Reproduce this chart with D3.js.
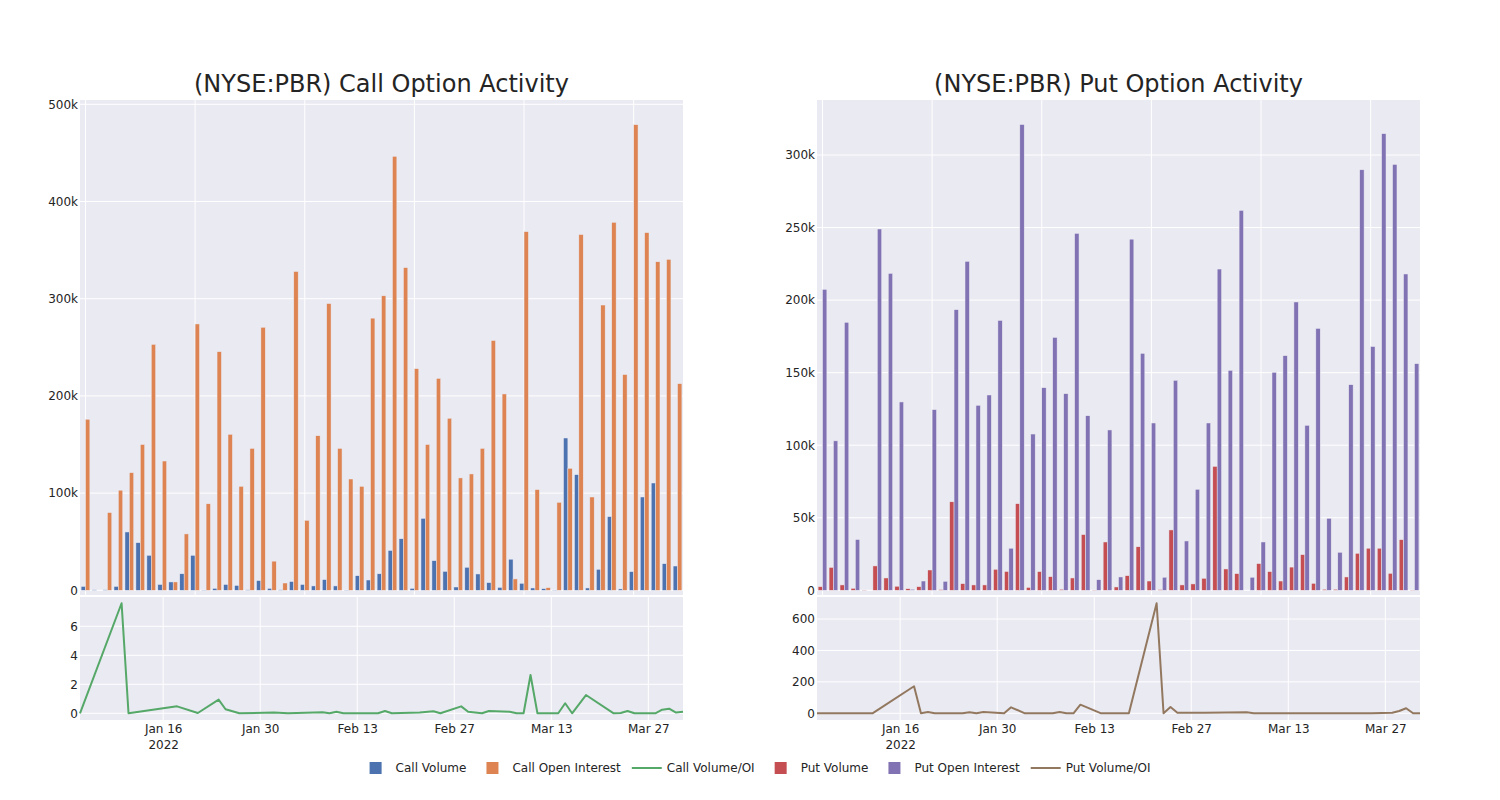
<!DOCTYPE html>
<html><head><meta charset="utf-8">
<script src="https://cdn.jsdelivr.net/npm/d3@7"></script>
<style>
body{margin:0;background:#fff;}
text{font-family:"DejaVu Sans",Verdana,sans-serif;fill:rgb(36,36,36);}
</style>
</head><body>
<svg id="c" width="1500" height="800"></svg>
<script>
// ---------- DATA ----------
const categories = [
 "2022-01-04","2022-01-10","2022-01-11","2022-01-12","2022-01-18","2022-01-19","2022-01-20","2022-01-21","2022-01-24","2022-01-25",
 "2022-01-26","2022-01-27","2022-01-28","2022-01-31","2022-02-01","2022-02-02","2022-02-03","2022-02-04","2022-02-07","2022-02-08",
 "2022-02-09","2022-02-10","2022-02-11","2022-02-14","2022-02-16","2022-02-17","2022-02-18","2022-02-22","2022-02-23","2022-02-24",
 "2022-02-25","2022-02-28","2022-03-01","2022-03-02","2022-03-03","2022-03-04","2022-03-07","2022-03-08","2022-03-09","2022-03-10",
 "2022-03-11","2022-03-14","2022-03-15","2022-03-16","2022-03-18","2022-03-21","2022-03-22","2022-03-23","2022-03-24","2022-03-25",
 "2022-03-28","2022-03-29","2022-03-30","2022-03-31","2022-04-01"];

// values in thousands of contracts
const callVolume = [4,0.5,0.5,4,60,49,36,6,8.6,17, 36,0.3,2,6,5,0.5,10,2,0.5,9, 6,4.5,11,4.5,0.3,15,10.6,17,41,53,
 2,74,30.5,19.5,3.4,23.7,16.8,7.9,3,32, 7.2,2.4,1.7,0.3,156.7,119,2.4,21.6,75.8,1.4, 19.2,96,110.4,27.4,25];
const callOpenInterest = [176,0,80,103,121,150,253,133,8.6,58, 274,89,245.5,160.5,107,146,270.6,30,7.5,328,
 72,159,295,146,114.5,107,280,303,446.5,332, 228,150,218,177,115.6,119.7,146,257,202,11.7,
 369,103.6,2.7,90.5,125.5,366,96,293.5,378.6,222, 479,368,338,340.5,212.6];
const putVolume = [2.5,15.8,3.7,1.4,0.2,16.8,8.5,2.8,1.1,2.5, 14,0.5,61,4.6,3.7,3.7,14.5,13,59.7,2,
 12.9,9.4,0.7,8.5,38.4,0.2,33.3,2.3,10.1,30, 6.4,0.5,41.6,3.7,4.4,8.3,85.4,14.7,11.5,0,
 18.4,12.9,6.4,16,24.6,4.8,0.7,0.7,9.2,25.5, 29,29,11.7,34.9,0.2];
const putOpenInterest = [207.4,103,184.7,35,0,249,218.4,129.8,0.7,6.4, 124.5,6.2,193.4,226.7,127.5,134.6,186,29,321,107.7,
 139.6,174.3,135.5,246,120.3,7.3,110.5,9.2,242,163.3, 115.3,9,144.7,34,69.6,115.3,221.4,151.6,261.8,9,
 33.3,150.2,161.7,198.7,113.7,180.5,49.6,26.2,141.7,289.8, 168,314.7,293.5,218,156.2];

const callRatioDates = ["2022-01-04","2022-01-10","2022-01-11","2022-01-18","2022-01-21","2022-01-24","2022-01-25","2022-01-27",
 "2022-02-01","2022-02-03","2022-02-08","2022-02-09","2022-02-10","2022-02-11","2022-02-16","2022-02-17","2022-02-18",
 "2022-02-22","2022-02-24","2022-02-25","2022-02-28","2022-03-01","2022-03-03","2022-03-04","2022-03-07","2022-03-08",
 "2022-03-09","2022-03-10","2022-03-11","2022-03-14","2022-03-15","2022-03-16","2022-03-18","2022-03-22","2022-03-23",
 "2022-03-24","2022-03-25","2022-03-28","2022-03-29","2022-03-30","2022-03-31","2022-04-01"];
const callRatio = [0,7.59,0,0.48,0.02,0.94,0.28,0,
 0.05,0,0.08,0,0.1,0,0,0.16,0,
 0.05,0.14,0,0.48,0.11,0,0.16,0.1,0,
 0,2.64,0,0,0.69,0,1.26,0,0.02,
 0.16,0,0,0.25,0.32,0.05,0.1];

const putRatioDates = ["2022-01-04","2022-01-12","2022-01-18","2022-01-19","2022-01-20","2022-01-21","2022-01-25","2022-01-26",
 "2022-01-27","2022-01-28","2022-01-31","2022-02-01","2022-02-03","2022-02-07","2022-02-08","2022-02-09","2022-02-10",
 "2022-02-11","2022-02-14","2022-02-18","2022-02-22","2022-02-23","2022-02-24","2022-02-25","2022-03-01","2022-03-07",
 "2022-03-08","2022-03-25","2022-03-28","2022-03-29","2022-03-30","2022-03-31","2022-04-01"];
const putRatio = [0,0,172,0,8,0,0,6,
 0,8,0,38,0,0,8,0,0,
 55,0,0,700,0,40,4,3,6,
 0,0,4,15,32,0,0];

const callBarTicks = [0,100,200,300,400,500];
const putBarTicks = [0,50,100,150,200,250,300];
const callLineTicks = [0,2,4,6];
const putLineTicks = [0,200,400,600];
const dateTicks = ["2022-01-16","2022-01-30","2022-02-13","2022-02-27","2022-03-13","2022-03-27"];
const dateTickLabels = ["Jan 16","Jan 30","Feb 13","Feb 27","Mar 13","Mar 27"];

const colors = {
  callVol:"rgb(76,114,176)", callOI:"rgb(221,132,82)", callRatio:"rgb(85,168,104)",
  putVol:"rgb(196,78,82)", putOI:"rgb(129,114,179)", putRatio:"rgb(147,120,96)"
};

// ---------- DRAW ----------
const FONT = "'DejaVu Sans',Verdana,sans-serif";
const parse = d3.timeParse("%Y-%m-%d");
const svg = d3.select("#c");
svg.append("rect").attr("width",1500).attr("height",800).attr("fill","#fff");
const BG = "rgb(234,234,242)";

function panel(cfg){
  const x0 = cfg.x0, x1 = cfg.x0 + 603;
  const barTop = 100, barBot = 595, lineTop = 597, lineBot = 720;
  const g = svg.append("g");

  // title
  g.append("text").attr("x",(x0+x1)/2).attr("y",92).attr("text-anchor","middle")
    .style("font-size","24px").text(cfg.title);

  // ---- bar subplot ----
  g.append("rect").attr("x",x0).attr("y",barTop).attr("width",603).attr("height",barBot-barTop).attr("fill",BG);
  const xb = d3.scaleBand().domain(categories).range([x0,x1]).paddingInner(0.2).paddingOuter(0.1);
  const xs = d3.scaleBand().domain(["vol","oi"]).range([0, xb.bandwidth()]);
  const yb = d3.scaleLinear().domain(cfg.barDomain).range([590.3, cfg.barTopPx]);

  g.selectAll(null).data(categories.filter((d,i)=>i%10===0)).enter().append("line")
    .attr("x1",d=>xb(d)+xb.bandwidth()/2).attr("x2",d=>xb(d)+xb.bandwidth()/2)
    .attr("y1",barTop).attr("y2",barBot).attr("stroke","#fff").attr("stroke-width",1);
  g.selectAll(null).data(cfg.barTicks).enter().append("line")
    .attr("x1",x0).attr("x2",x1).attr("y1",d=>yb(d)).attr("y2",d=>yb(d))
    .attr("stroke","#fff").attr("stroke-width",1);

  const series = [{key:"vol",vals:cfg.vol,color:cfg.volColor},{key:"oi",vals:cfg.oi,color:cfg.oiColor}];
  series.forEach(s=>{
    g.selectAll(null).data(categories).enter().append("rect")
      .attr("x",(d)=>xb(d)+xs(s.key)).attr("width",xs.bandwidth())
      .attr("y",(d,i)=>yb(s.vals[i])).attr("height",(d,i)=>Math.max(0,yb(0)-yb(s.vals[i])))
      .attr("fill",s.color).attr("stroke",BG).attr("stroke-width",0.5);
  });

  const ayb = d3.axisLeft(yb).tickValues(cfg.barTicks).tickSize(0).tickPadding(2)
    .tickFormat(d=>d===0?"0":d+"k");
  const gay = g.append("g").attr("transform",`translate(${x0},0)`).call(ayb);
  gay.select(".domain").remove();
  gay.selectAll("text").style("font-size","12px").style("font-family",FONT).attr("fill","rgb(36,36,36)");

  // ---- line subplot ----
  g.append("rect").attr("x",x0).attr("y",lineTop).attr("width",603).attr("height",lineBot-lineTop).attr("fill",BG);
  const xl = d3.scaleTime().domain([parse("2022-01-04"),parse("2022-04-01")]).range([x0,x1]);
  const yl = d3.scaleLinear().domain(cfg.lineDomain).range([713.3, cfg.lineTopPx]);
  g.selectAll(null).data(dateTicks).enter().append("line")
    .attr("x1",d=>xl(parse(d))).attr("x2",d=>xl(parse(d))).attr("y1",lineTop).attr("y2",lineBot)
    .attr("stroke","#fff").attr("stroke-width",1);
  g.selectAll(null).data(cfg.lineTicks).enter().append("line")
    .attr("x1",x0).attr("x2",x1).attr("y1",d=>yl(d)).attr("y2",d=>yl(d))
    .attr("stroke","#fff").attr("stroke-width",1);

  const line = d3.line().x((d,i)=>xl(parse(cfg.ratioDates[i]))).y(d=>yl(d));
  g.append("path").datum(cfg.ratio).attr("d",line).attr("fill","none")
    .attr("stroke",cfg.ratioColor).attr("stroke-width",2).attr("stroke-linejoin","round");

  const ayl = d3.axisLeft(yl).tickValues(cfg.lineTicks).tickSize(0).tickPadding(2).tickFormat(d3.format("d"));
  const gyl = g.append("g").attr("transform",`translate(${x0},0)`).call(ayl);
  gyl.select(".domain").remove();
  gyl.selectAll("text").style("font-size","12px").style("font-family",FONT).attr("fill","rgb(36,36,36)");

  const axl = d3.axisBottom(xl).tickValues(dateTicks.map(parse)).tickSize(0).tickPadding(0)
    .tickFormat((d,i)=>dateTickLabels[i]);
  const gxl = g.append("g").attr("transform",`translate(0,${lineBot})`).call(axl);
  gxl.select(".domain").remove();
  gxl.selectAll("text").style("font-size","12px").style("font-family",FONT)
    .attr("fill","rgb(36,36,36)").attr("y",13).attr("dy",0);
  gxl.selectAll(".tick").filter((d,i)=>i===0).append("text")
    .attr("y",29).attr("text-anchor","middle").style("font-size","12px").style("font-family",FONT)
    .attr("fill","rgb(36,36,36)").text("2022");
}

panel({x0:80, title:"(NYSE:PBR) Call Option Activity", vol:callVolume, oi:callOpenInterest,
  volColor:colors.callVol, oiColor:colors.callOI, barDomain:[0,500], barTopPx:104.3, barTicks:callBarTicks,
  ratioDates:callRatioDates, ratio:callRatio, ratioColor:colors.callRatio, lineDomain:[0,6], lineTopPx:626.3, lineTicks:callLineTicks});
panel({x0:817, title:"(NYSE:PBR) Put Option Activity", vol:putVolume, oi:putOpenInterest,
  volColor:colors.putVol, oiColor:colors.putOI, barDomain:[0,300], barTopPx:155.0, barTicks:putBarTicks,
  ratioDates:putRatioDates, ratio:putRatio, ratioColor:colors.putRatio, lineDomain:[0,600], lineTopPx:619, lineTicks:putLineTicks});

// ---------- LEGEND ----------
const legendItems = [
  {label:"Call Volume", type:"bar", color:colors.callVol},
  {label:"Call Open Interest", type:"bar", color:colors.callOI},
  {label:"Call Volume/OI", type:"line", color:colors.callRatio},
  {label:"Put Volume", type:"bar", color:colors.putVol},
  {label:"Put Open Interest", type:"bar", color:colors.putOI},
  {label:"Put Volume/OI", type:"line", color:colors.putRatio}
];
const lg = svg.append("g");
let cx = 355.6; const ly = 768;
legendItems.forEach(it=>{
  if(it.type==="bar"){
    lg.append("rect").attr("x",cx+14).attr("y",ly-6).attr("width",12).attr("height",12).attr("fill",it.color);
  } else {
    lg.append("line").attr("x1",cx+5).attr("x2",cx+35).attr("y1",ly).attr("y2",ly)
      .attr("stroke",it.color).attr("stroke-width",2);
  }
  const t = lg.append("text").attr("x",cx+40).attr("y",ly).attr("dy","0.35em")
    .style("font-size","12px").text(it.label);
  cx += 40 + t.node().getComputedTextLength() + 6;
});
</script>
</body></html>
